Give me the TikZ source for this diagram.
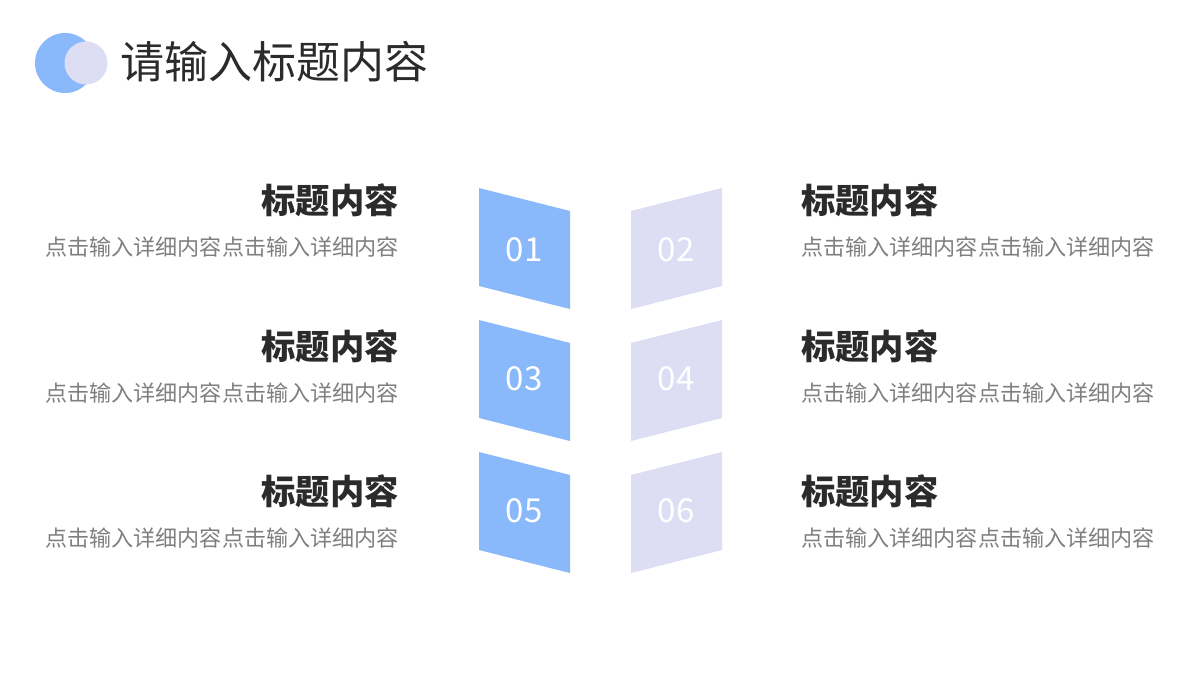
\documentclass[tikz,border=0pt]{standalone}
\usepackage{fontspec}
\setmainfont{Noto Sans CJK SC}
\newfontfamily\cjk{Noto Sans CJK SC}
\definecolor{cblue}{HTML}{8AB9FB}
\definecolor{clav}{HTML}{DDDEF3}
\definecolor{ctitle}{HTML}{2B2B2B}
\definecolor{cgray}{HTML}{7F7F7F}
\tikzset{
  headL/.style={anchor=east,inner sep=0pt,font=\fontsize{34.3}{38}\selectfont\bfseries,text=ctitle},
  headR/.style={anchor=west,inner sep=0pt,font=\fontsize{34.3}{38}\selectfont\bfseries,text=ctitle},
  subL/.style={anchor=east,inner sep=0pt,font=\fontsize{22.1}{25}\selectfont,text=cgray},
  subR/.style={anchor=west,inner sep=0pt,font=\fontsize{22.1}{25}\selectfont,text=cgray},
  num/.style={inner sep=0pt,font=\fontsize{33}{36}\selectfont,text=white},
}
\begin{document}
\begin{tikzpicture}[x=1pt,y=-1pt]
\useasboundingbox[fill=white] (0,0) rectangle (1200,680);
% logo
\fill[cblue] (65,63) circle (30);
\fill[clav] (86,63) circle (21.5);
\node[anchor=west,inner sep=0pt,font=\fontsize{44}{48}\selectfont,text=ctitle] (title) at (120,62) {请输入标题内容};
% shapes
\foreach \i/\t/\a/\b/\ny in {0/188/01/02/250,1/320/03/04/379,2/452/05/06/511}{
  \fill[cblue] (479,\t) -- (570,\t+23) -- (570,\t+121) -- (479,\t+98) -- cycle;
  \fill[clav] (722,\t) -- (631,\t+23) -- (631,\t+121) -- (722,\t+98) -- cycle;
  \node[num] (n\a) at (524,\ny) {\a};
  \node[num] (n\b) at (676,\ny) {\b};
}
\foreach \y/\k in {200/1,346/2,491/3}{
  \node[headL] (hl\k) at (399,\y) {标题内容};
  \node[subL] (sl\k) at (399,\y+47) {点击输入详细内容点击输入详细内容};
  \node[headR] (hr\k) at (801,\y) {标题内容};
  \node[subR] (sr\k) at (801,\y+47) {点击输入详细内容点击输入详细内容};
}
\end{tikzpicture}
\end{document}
